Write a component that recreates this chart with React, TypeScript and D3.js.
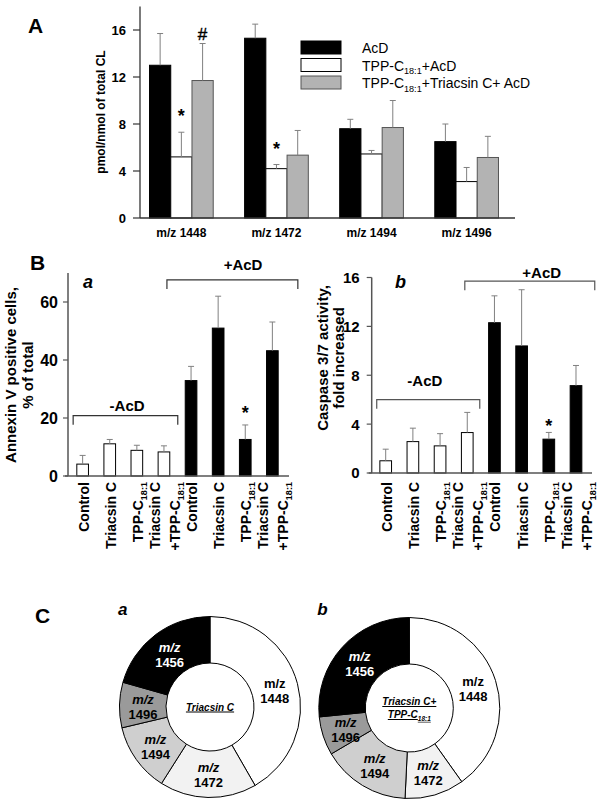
import React from "react";
import * as d3 from "d3";

const FONT = "'Liberation Sans', Arial, Helvetica, sans-serif";

// ---------- Panel A data ----------
const groupsA = ["m/z 1448", "m/z 1472", "m/z 1494", "m/z 1496"];
const seriesA = ["AcD", "TPP-C_{18:1}+AcD", "TPP-C_{18:1}+Triacsin C+ AcD"];
const acdMean = [13.0, 15.3, 7.6, 6.5];
const acdSD = [2.7, 1.2, 0.8, 1.5];
const tppMean = [5.2, 4.2, 5.45, 3.1];
const tppSD = [2.1, 0.35, 0.3, 1.2];
const triMean = [11.7, 5.35, 7.7, 5.15];
const triSD = [3.15, 2.1, 2.3, 1.8];
const ticksA = [0, 4, 8, 12, 16];
// significance marks: [seriesIndex, groupIndex, symbol]
const marksA: [number, number, string][] = [
  [1, 0, "*"],
  [1, 1, "*"],
  [2, 0, "#"],
];

// ---------- Panel B data ----------
const labelsB = [
  ["Control"],
  ["Triacsin C"],
  ["TPP-C_{18:1}"],
  ["Triacsin C", "+TPP-C_{18:1}"],
  ["Control"],
  ["Triacsin C"],
  ["TPP-C_{18:1}"],
  ["Triacsin C", "+TPP-C_{18:1}"],
];
const treatB = ["-AcD", "-AcD", "-AcD", "-AcD", "+AcD", "+AcD", "+AcD", "+AcD"];
const annexinMean = [4.1, 11.1, 8.85, 8.3, 32.9, 51.0, 12.6, 43.2];
const annexinSD = [3.0, 1.5, 1.75, 2.1, 4.9, 11.0, 5.0, 9.9];
const caspaseMean = [1.0, 2.57, 2.22, 3.31, 12.3, 10.4, 2.77, 7.15];
const caspaseSD = [0.95, 1.1, 1.0, 1.65, 2.2, 4.6, 0.55, 1.65];
const ticksBa = [0, 20, 40, 60];
const ticksBb = [0, 4, 8, 12, 16];
const starBa = [6];
const starBb = [6];

// ---------- Panel C data ----------
const speciesC = ["1448", "1472", "1494", "1496", "1456"];
const triacsinShare = [41.7, 17.3, 12.3, 8.1, 20.6];
const comboShare = [40.2, 10.6, 15.8, 6.9, 26.6];

const sliceColors = ["#ffffff", "#f2f2f2", "#cfcfcf", "#9a9a9a", "#000000"];
const seriesFill = ["#000000", "#ffffff", "#b3b3b3"];
const seriesStroke = ["#000000", "#000000", "#555555"];
const ERR = "#808080";

function rich(s: string, base: number, subScale = 0.65) {
  const parts = s.split(/(_\{[^}]*\})/).filter((p) => p.length);
  const out: any[] = [];
  let shifted = false;
  const sh = base * 0.28;
  parts.forEach((p, i) => {
    if (p.startsWith("_{")) {
      out.push(
        <tspan key={i} fontSize={base * subScale} dy={sh}>
          {p.slice(2, -1)}
        </tspan>
      );
      shifted = true;
    } else {
      out.push(
        <tspan key={i} dy={shifted ? -sh : undefined}>
          {p}
        </tspan>
      );
      shifted = false;
    }
  });
  return out;
}

function PanelA() {
  const y = d3.scaleLinear().domain([0, 18]).range([218, 6.5]);
  const x = d3.scaleBand<string>().domain(groupsA).range([140, 508]).paddingInner(0.33).paddingOuter(0.1);
  const s = d3.scaleBand<string>().domain(seriesA).range([0, x.bandwidth()]);
  const means = [acdMean, tppMean, triMean];
  const sds = [acdSD, tppSD, triSD];
  const bw = s.bandwidth();
  return (
    <g>
      <text x={28} y={33} fontSize={21} fontWeight="bold">A</text>
      {seriesA.map((ser, k) =>
        groupsA.map((g, i) => {
          const x0 = x(g)! + s(ser)!;
          const m = means[k][i];
          return (
            <rect key={ser + g} x={x0} y={y(m)} width={bw} height={y(0) - y(m)}
              fill={seriesFill[k]} stroke={seriesStroke[k]} strokeWidth={1} />
          );
        })
      )}
      {seriesA.map((ser, k) =>
        groupsA.map((g, i) => {
          const cx = x(g)! + s(ser)! + bw / 2;
          const m = means[k][i];
          const t = y(m + sds[k][i]);
          return (
            <g key={"e" + ser + g} stroke={ERR} strokeWidth={1}>
              <line x1={cx} x2={cx} y1={y(m)} y2={t} />
              <line x1={cx - 3} x2={cx + 3} y1={t} y2={t} />
            </g>
          );
        })
      )}
      {marksA.map(([k, i, sym], j) => {
        const cx = x(groupsA[i])! + s(seriesA[k])! + bw / 2;
        const t = y(means[k][i] + sds[k][i]);
        return sym === "*" ? (
          <text key={j} x={cx} y={t - 10} textAnchor="middle" fontSize={18} fontWeight="bold">*</text>
        ) : (
          <text key={j} x={cx} y={t - 4} textAnchor="middle" fontSize={17} stroke="#000" strokeWidth={0.4}>#</text>
        );
      })}
      <line x1={140} x2={140} y1={y(0)} y2={y(18)} stroke="#333" strokeWidth={1.3} />
      <line x1={140} x2={515} y1={y(0)} y2={y(0)} stroke="#333" strokeWidth={1.3} />
      {ticksA.map((t) => (
        <g key={t}>
          <line x1={133} x2={140} y1={y(t)} y2={y(t)} stroke="#333" strokeWidth={1.2} />
          <text x={126} y={y(t)} dy="0.36em" textAnchor="end" fontSize={13} fontWeight="bold">{t}</text>
        </g>
      ))}
      {groupsA.map((g) => (
        <text key={g} x={x(g)! + x.bandwidth() / 2} y={237} textAnchor="middle" fontSize={12} fontWeight="bold">{g}</text>
      ))}
      <text transform={`translate(105,112) rotate(-90)`} textAnchor="middle" fontSize={12} fontWeight="bold">
        pmol/nmol of total CL
      </text>
      {seriesA.map((ser, k) => (
        <g key={"l" + ser} transform={`translate(301,${41 + k * 17.5})`}>
          <rect width={40} height={13} fill={seriesFill[k]} stroke={seriesStroke[k]} strokeWidth={1} />
          <text x={61} y={12} fontSize={14}>{rich(ser, 14)}</text>
        </g>
      ))}
    </g>
  );
}

type BCfg = {
  values: number[];
  sd: number[];
  xRange: [number, number];
  padOuter: number;
  yDomain: [number, number];
  yRange: [number, number];
  ticks: number[];
  tickFont: number;
  tickGap: number;
  letter: string;
  letterX: number;
  yLabel: string[];
  yLabelX: number[];
  yLabelY: number;
  yLabelFont: number;
  stars: number[];
  starOffset: number;
  minus: { y: number; from: number; to: number; tx: number; ty: number };
  plus: { y: number; from: number; to: number; tx: number; ty: number };
  bracketColor: string;
};

function BarPanel({ cfg }: { cfg: BCfg }) {
  const idx = d3.range(cfg.values.length);
  const x = d3.scaleBand<number>().domain(idx).range(cfg.xRange).paddingInner(0.57).paddingOuter(cfg.padOuter);
  const y = d3.scaleLinear().domain(cfg.yDomain).range(cfg.yRange);
  const bw = x.bandwidth();
  const pos = (i: number) => x(0)! + bw / 2 + i * x.step();
  const ax = cfg.xRange[0];
  const y0 = y(0);
  const brk = (b: BCfg["minus"], label: string) => {
    const by = y(b.y);
    const x1 = pos(b.from), x2 = pos(b.to);
    return (
      <g>
        <path d={`M${x1},${by + 9}V${by}H${x2}V${by + 9}`} fill="none" stroke={cfg.bracketColor} strokeWidth={1.2} />
        <text x={pos(b.tx)} y={by - b.ty} textAnchor="middle" fontSize={15} fontWeight="bold">{label}</text>
      </g>
    );
  };
  return (
    <g>
      {idx.map((i) => {
        const m = cfg.values[i];
        const black = treatB[i] === "+AcD";
        return (
          <rect key={i} x={x(i)} y={y(m)} width={bw} height={y0 - y(m)}
            fill={black ? "#000" : "#fff"} stroke="#000" strokeWidth={1} />
        );
      })}
      {idx.map((i) => {
        const cx = x(i)! + bw / 2;
        const m = cfg.values[i];
        const t = y(m + cfg.sd[i]);
        return (
          <g key={"e" + i} stroke={ERR} strokeWidth={1}>
            <line x1={cx} x2={cx} y1={y(m)} y2={t} />
            <line x1={cx - 3} x2={cx + 3} y1={t} y2={t} />
          </g>
        );
      })}
      {cfg.stars.map((i) => (
        <text key={"s" + i} x={x(i)! + bw / 2} y={y(cfg.values[i] + cfg.sd[i]) - cfg.starOffset}
          textAnchor="middle" fontSize={18} fontWeight="bold">*</text>
      ))}
      <line x1={ax} x2={ax} y1={y0} y2={cfg.yRange[1]} stroke="#555" strokeWidth={1.5} />
      <line x1={ax - 3} x2={cfg.xRange[1] + 2} y1={y0} y2={y0} stroke="#555" strokeWidth={1.5} />
      {cfg.ticks.map((t) => (
        <g key={t}>
          <line x1={ax - 5} x2={ax} y1={y(t)} y2={y(t)} stroke="#555" strokeWidth={1.2} />
          <text x={ax - cfg.tickGap} y={y(t)} dy="0.36em" textAnchor="end" fontSize={cfg.tickFont} fontWeight="bold">{t}</text>
        </g>
      ))}
      {idx.map((i) => {
        const lines = labelsB[i];
        const c = x(i)! + bw / 2;
        return lines.map((ln, j) => (
          <text key={i + "-" + j}
            transform={`translate(${c + 6 + (j - (lines.length - 1) / 2) * 20},482) rotate(-90)`}
            textAnchor="end" fontSize={14} fontWeight="bold">
            {rich(ln, 14)}
          </text>
        ));
      })}
      {cfg.yLabel.map((ln, j) => (
        <text key={"yl" + j} transform={`translate(${cfg.yLabelX[j]},${cfg.yLabelY}) rotate(-90)`}
          textAnchor="middle" fontSize={cfg.yLabelFont} fontWeight="bold">{ln}</text>
      ))}
      <text x={cfg.letterX} y={288} fontSize={18} fontWeight="bold" fontStyle="italic">{cfg.letter}</text>
      {brk(cfg.minus, "-AcD")}
      {brk(cfg.plus, "+AcD")}
    </g>
  );
}

const cfgBa: BCfg = {
  values: annexinMean,
  sd: annexinSD,
  xRange: [68, 287],
  padOuter: 0.325,
  yDomain: [0, 70],
  yRange: [476, 273],
  ticks: ticksBa,
  tickFont: 16,
  tickGap: 10,
  letter: "a",
  letterX: 83,
  yLabel: ["Annexin V positive cells,", "% of total"],
  yLabelX: [16, 33],
  yLabelY: 375,
  yLabelFont: 15,
  stars: starBa,
  starOffset: 6,
  minus: { y: 20.8, from: -0.35, to: 3.51, tx: 1.64, ty: 4.5 },
  plus: { y: 67.6, from: 3.11, to: 7.94, tx: 5.92, ty: 10 },
  bracketColor: "#333",
};

const cfgBb: BCfg = {
  values: caspaseMean,
  sd: caspaseSD,
  xRange: [371.7, 590],
  padOuter: 0.3,
  yDomain: [0, 16],
  yRange: [473, 277.5],
  ticks: ticksBb,
  tickFont: 15,
  tickGap: 12,
  letter: "b",
  letterX: 395,
  yLabel: ["Caspase 3/7 activity,", "fold increased"],
  yLabelX: [328, 344],
  yLabelY: 358,
  yLabelFont: 15,
  stars: starBb,
  starOffset: 0,
  minus: { y: 6.0, from: -0.33, to: 3.46, tx: 1.44, ty: 14 },
  plus: { y: 15.7, from: 2.91, to: 7.69, tx: 5.74, ty: 3 },
  bracketColor: "#555",
};

function Donut({ values, cx, cy, letter, center }: { values: number[]; cx: number; cy: number; letter: string; center: string[] }) {
  const pie = d3.pie<number>().sort(null).value((d) => d);
  const arcs = pie(values);
  const arc = d3.arc<d3.PieArcDatum<number>>().innerRadius(44).outerRadius(90.5);
  const lab = d3.arc<d3.PieArcDatum<number>>().innerRadius(67).outerRadius(67);
  return (
    <g>
      <text x={cx - 92} y={615} fontSize={17} fontWeight="bold" fontStyle="italic">{letter}</text>
      <g transform={`translate(${cx},${cy})`}>
        {arcs.map((a, i) => (
          <path key={i} d={arc(a)!} fill={sliceColors[i]} stroke="#000" strokeWidth={1} />
        ))}
        {arcs.map((a, i) => {
          const [lx, ly] = lab.centroid(a);
          const col = sliceColors[i] === "#000000" ? "#fff" : "#000";
          return (
            <g key={"t" + i} fill={col} fontSize={13} fontWeight="bold" textAnchor="middle">
              <text x={lx} y={ly - 2} fontStyle={speciesC[i] === "1448" ? "normal" : "italic"}>m/z</text>
              <text x={lx} y={ly + 13}>{speciesC[i]}</text>
            </g>
          );
        })}
        {center.map((ln, j) => (
          <text key={"c" + j} x={0} y={(j - (center.length - 1) / 2) * 13 + 3.5} textAnchor="middle"
            fontSize={10} fontWeight="bold" fontStyle="italic" style={{ textDecoration: "underline" }}>
            {rich(ln, 10)}
          </text>
        ))}
      </g>
    </g>
  );
}

export default function App() {
  return (
    <svg width={601} height={804} viewBox="0 0 601 804"
      style={{ position: "absolute", left: 0, top: 0, background: "#fff" }} fontFamily={FONT}>
      <rect width={601} height={804} fill="#fff" />
      <PanelA />
      <text x={30} y={270} fontSize={21} fontWeight="bold">B</text>
      <BarPanel cfg={cfgBa} />
      <BarPanel cfg={cfgBb} />
      <text x={35} y={623} fontSize={21} fontWeight="bold">C</text>
      <Donut values={triacsinShare} cx={210} cy={707} letter="a" center={["Triacsin C"]} />
      <Donut values={comboShare} cx={409.3} cy={708} letter="b" center={["Triacsin C+", "TPP-C_{18:1}"]} />
    </svg>
  );
}
